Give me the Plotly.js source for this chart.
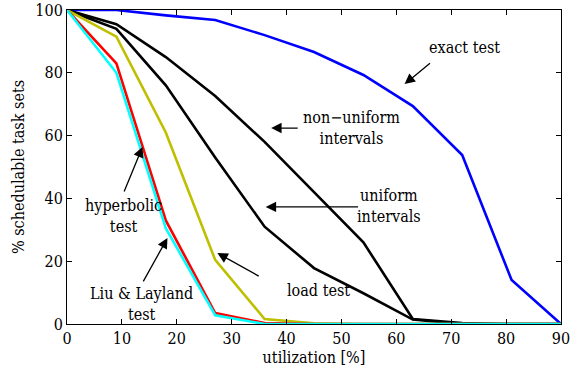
<!DOCTYPE html>
<html><head><meta charset="utf-8">
<script src="https://cdn.plot.ly/plotly-3.0.1.min.js"></script>
<style>html,body{margin:0;padding:0;background:#fff}#c{width:582px;height:376px}</style>
</head><body><div id="c"></div>
<script>
const util = [0, 9, 18, 27, 36, 45, 54, 63, 72, 81, 90];
const exactTest = [100, 100, 98.3, 96.8, 92, 86.6, 79.3, 69.4, 53.8, 14, 0];
const nonUniform = [100, 95.5, 85, 72.6, 58, 42, 26, 1.6, 0.3, 0, 0];
const uniform = [100, 94, 76, 53, 31, 17.8, 9.8, 1.4, 0, 0, 0];
const loadTest = [100, 91.5, 61, 20.4, 1.6, 0.2, 0, 0, 0, 0, 0];
const hyperbolic = [100, 83, 33, 3.5, 0.3, 0, 0, 0, 0, 0, 0];
const liuLayland = [100, 80, 30.5, 2.8, 0, 0, 0, 0, 0, 0, 0];
const xTicks = [0, 10, 20, 30, 40, 50, 60, 70, 80, 90];
const yTicks = [0, 20, 40, 60, 80, 100];

const W = 2.6;
const mk = (y, c) => ({x: util, y: y, type: 'scatter', mode: 'lines', line: {color: c, width: W}, hoverinfo: 'skip'});
const data = [
  mk(exactTest, '#0000ff'),
  mk(nonUniform, '#000000'),
  mk(uniform, '#000000'),
  mk(loadTest, '#bfbf00'),
  mk(hyperbolic, '#ff0000'),
  mk(liuLayland, '#00ffff')
];
const F = {family: 'DejaVu Serif Condensed, DejaVu Serif', size: 16, color: '#000'};
function arrow(x0, y0, x1, y1) {
  return {x: x1, y: y1, ax: x0, ay: y0, xref: 'x', yref: 'y', axref: 'x', ayref: 'y', text: '', showarrow: true, arrowhead: 2, arrowsize: 1.6, arrowwidth: 1.3, arrowcolor: '#000'};
}
function label(x, y, t) {
  return {x: x, y: y, xref: 'x', yref: 'y', text: t, showarrow: false, font: F, align: 'center'};
}
const layout = {
  width: 582, height: 376,
  margin: {l: 67, r: 21, t: 10, b: 52},
  paper_bgcolor: '#fff', plot_bgcolor: '#fff',
  showlegend: false,
  font: F,
  xaxis: {range: [0, 90], tickvals: xTicks, ticktext: xTicks.map(String), ticks: 'inside', ticklen: 5, tickcolor: '#000',
    showline: true, linecolor: '#000', linewidth: 1, mirror: 'ticks', showgrid: false, zeroline: false,
    tickfont: F, title: {text: 'utilization [%]', font: F, standoff: 4}},
  yaxis: {range: [0, 100], tickvals: yTicks, ticktext: yTicks.map(String), ticks: 'inside', ticklen: 5, tickcolor: '#000',
    showline: true, linecolor: '#000', linewidth: 1, mirror: 'ticks', showgrid: false, zeroline: false,
    tickfont: F, title: {text: '% schedulable task sets', font: F, standoff: 6}},
  annotations: [
    arrow(66.4, 83.4, 61.5, 76.4),
    arrow(42.3, 62.4, 37.2, 62.4),
    arrow(53.3, 37.3, 36.2, 37.3),
    arrow(10.3, 41.7, 13.75, 56.4),
    arrow(13.75, 13.1, 18.3, 27.4),
    arrow(35.2, 15, 27.4, 22.6),
    label(72.4, 88.2, 'exact test'),
    label(51.8, 62.4, 'non\u2212uniform<br>intervals'),
    label(58.7, 37.6, 'uniform<br>intervals'),
    label(10.3, 34.4, 'hyperbolic<br>test'),
    label(13.6, 6.4, 'Liu &amp; Layland<br>test'),
    label(45.8, 10.8, 'load test')
  ]
};
Plotly.newPlot('c', data, layout, {staticPlot: true, displayModeBar: false});
</script></body></html>
